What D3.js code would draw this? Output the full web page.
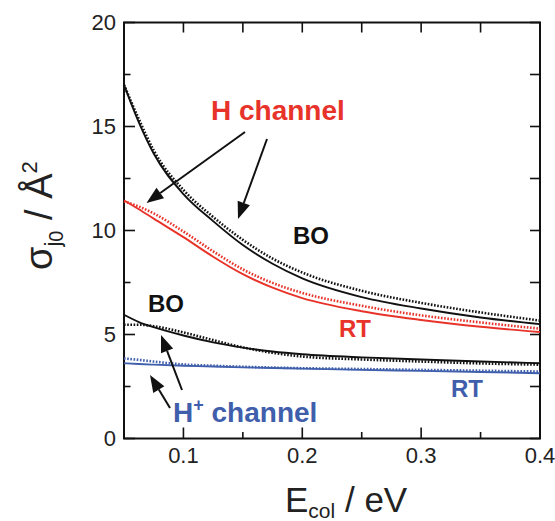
<!DOCTYPE html>
<html>
<head>
<meta charset="utf-8">
<script src="https://cdn.jsdelivr.net/npm/d3@7"></script>
<style>
  body { margin: 0; background: #fff; }
  svg { display: block; font-family: "Liberation Sans", Arial, sans-serif; }
</style>
</head>
<body>
<svg></svg>
<script>
// collision energy (eV)
const energies = [0.05, 0.0625, 0.075, 0.1, 0.125, 0.15, 0.175, 0.2, 0.25, 0.3, 0.35, 0.4];

// H channel
const hBO      = [17.0, 15.2, 13.7, 11.75, 10.45, 9.3, 8.4, 7.7, 6.8, 6.25, 5.82, 5.5];
const hBOdot   = [17.0, 15.35, 13.85, 11.95, 10.65, 9.55, 8.65, 7.98, 7.1, 6.52, 6.06, 5.67];
const hRT      = [11.45, 11.02, 10.57, 9.68, 8.74, 7.9, 7.25, 6.75, 6.12, 5.7, 5.37, 5.12];
const hRTdot   = [11.4, 11.15, 10.82, 9.95, 9.0, 8.13, 7.48, 7.0, 6.38, 5.92, 5.58, 5.28];

// H+ channel
const hpBO     = [5.95, 5.6, 5.35, 4.95, 4.62, 4.37, 4.18, 4.05, 3.9, 3.8, 3.7, 3.62];
const hpBOdot  = [5.47, 5.47, 5.4, 5.1, 4.73, 4.38, 4.12, 3.94, 3.8, 3.7, 3.61, 3.55];
const hpRT     = [3.62, 3.58, 3.55, 3.5, 3.46, 3.42, 3.39, 3.36, 3.3, 3.25, 3.2, 3.14];
const hpRTdot  = [3.85, 3.78, 3.7, 3.56, 3.5, 3.45, 3.41, 3.38, 3.34, 3.3, 3.26, 3.22];

const xMajor = [0.1, 0.2, 0.3, 0.4];
const xMinor = [0.15, 0.25, 0.35];
const yMajor = [0, 5, 10, 15, 20];
const yMinor = [2.5, 7.5, 12.5, 17.5];

const red = "#e8332b", blue = "#3f5eab";

const W = 555, H = 521;
const svg = d3.select("svg").attr("width", W).attr("height", H);

const x = d3.scaleLinear().domain([0.05, 0.4]).range([124, 540]);
const y = d3.scaleLinear().domain([0, 20]).range([438.5, 22.5]);

// frame
svg.append("rect")
    .attr("x", x(0.05)).attr("y", y(20))
    .attr("width", x(0.4) - x(0.05)).attr("height", y(0) - y(20))
    .attr("fill", "none").attr("stroke", "#111").attr("stroke-width", 2);

// ticks (inward)
const tk = svg.append("g").attr("stroke", "#111").attr("stroke-width", 1.6);
xMajor.concat(xMinor).forEach(v => {
    const len = xMajor.includes(v) ? 11 : 6.5;
    tk.append("line").attr("x1", x(v)).attr("x2", x(v)).attr("y1", y(0)).attr("y2", y(0) - len);
    tk.append("line").attr("x1", x(v)).attr("x2", x(v)).attr("y1", y(20)).attr("y2", y(20) + 10);
});
yMajor.concat(yMinor).forEach(v => {
    const len = yMajor.includes(v) ? 11 : 6.5;
    tk.append("line").attr("x1", x(0.05)).attr("x2", x(0.05) + len).attr("y1", y(v)).attr("y2", y(v));
    tk.append("line").attr("x1", x(0.4)).attr("x2", x(0.4) - 10).attr("y1", y(v)).attr("y2", y(v));
});

// tick labels
svg.append("g").selectAll("text").data(xMajor).join("text")
    .attr("x", d => x(d)).attr("y", 463)
    .attr("text-anchor", "middle").attr("font-size", 22).attr("fill", "#222")
    .text(d => d3.format(".1f")(d));
svg.append("g").selectAll("text").data(yMajor).join("text")
    .attr("x", 116).attr("y", d => y(d) + 7.5)
    .attr("text-anchor", "end").attr("font-size", 22).attr("fill", "#222")
    .text(d => d);

// axis titles
const xt = svg.append("text").attr("x", 285).attr("y", 512)
    .attr("font-size", 35).attr("fill", "#222");
xt.append("tspan").text("E");
xt.append("tspan").attr("font-size", 21).attr("dy", 6).text("col");
xt.append("tspan").attr("dy", -6).text(" / eV");

const yt = svg.append("text").attr("transform", "translate(52,270) rotate(-90)")
    .attr("font-size", 38).attr("fill", "#222");
yt.append("tspan").text("σ");
yt.append("tspan").attr("font-size", 22).attr("dy", 8).text("j");
yt.append("tspan").attr("font-size", 20).attr("dy", 3).text("0");
yt.append("tspan").attr("dy", -11).text(" / Å");
yt.append("tspan").attr("font-size", 22).attr("dy", -15).text("2");

// curves
const line = d3.line().x((d, i) => x(energies[i])).y(d => y(d)).curve(d3.curveMonotoneX);
const curves = [
    { v: hRTdot, c: red, dot: true },
    { v: hRT, c: red, dot: false },
    { v: hpRTdot, c: blue, dot: true },
    { v: hpRT, c: blue, dot: false },
    { v: hBOdot, c: "#111", dot: true },
    { v: hBO, c: "#111", dot: false },
    { v: hpBOdot, c: "#111", dot: true },
    { v: hpBO, c: "#111", dot: false }
];
curves.forEach(s => {
    svg.append("path")
        .attr("d", line(s.v))
        .attr("fill", "none")
        .attr("stroke", s.c)
        .attr("stroke-width", s.dot ? 2.6 : 1.9)
        .attr("stroke-dasharray", s.dot ? "1.6,1.6" : null);
});

// arrows
function arrow(x1, y1, x2, y2) {
    const a = Math.atan2(y2 - y1, x2 - x1), L = 17, w = 6.5;
    const bx = x2 - L * Math.cos(a), by = y2 - L * Math.sin(a);
    svg.append("line").attr("x1", x1).attr("y1", y1).attr("x2", bx).attr("y2", by)
        .attr("stroke", "#111").attr("stroke-width", 2);
    svg.append("path")
        .attr("d", `M${x2},${y2}L${bx + w * Math.sin(a)},${by - w * Math.cos(a)}L${bx - w * Math.sin(a)},${by + w * Math.cos(a)}Z`)
        .attr("fill", "#111");
}
arrow(245, 132, 146.5, 203);
arrow(267, 139, 238, 219);
arrow(182, 390, 161, 335);
arrow(170, 408, 150, 375);

// labels
const lab = (tx, ty, t, c, fs) => svg.append("text").attr("x", tx).attr("y", ty)
    .attr("font-size", fs).attr("font-weight", "bold").attr("fill", c).text(t);
lab(211, 120, "H channel", red, 28);
lab(293, 244, "BO", "#111", 24);
lab(148, 311.5, "BO", "#111", 24);
lab(339, 336.5, "RT", red, 24);
lab(451, 396.5, "RT", blue, 24);
const hp = svg.append("text").attr("x", 173).attr("y", 421.5)
    .attr("font-size", 28).attr("font-weight", "bold").attr("fill", blue);
hp.append("tspan").text("H");
hp.append("tspan").attr("font-size", 18).attr("dy", -11).text("+");
hp.append("tspan").attr("dy", 11).text(" channel");
</script>
</body>
</html>
